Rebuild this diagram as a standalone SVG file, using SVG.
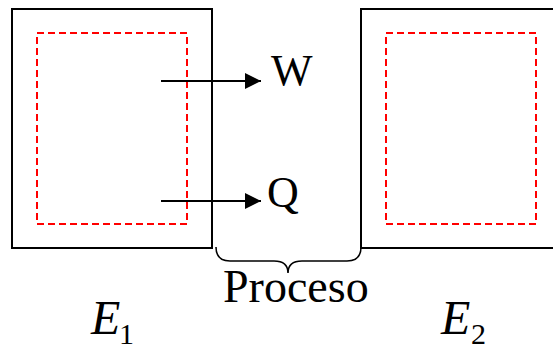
<svg xmlns="http://www.w3.org/2000/svg" width="553" height="350" viewBox="0 0 553 350">
  <style>
    .box { fill: none; stroke: #000; stroke-width: 2; }
    .inner { fill: none; stroke: #ff0000; stroke-width: 2; stroke-dasharray: 7 4; }
    .flow { stroke: #000; stroke-width: 2; fill: none; }
    .brace { fill: none; stroke: #000; stroke-width: 1.6; }
    text { fill: #000; }
  </style>
  <defs>
    <marker id="arrowhead" markerWidth="16" markerHeight="16" refX="16" refY="8" markerUnits="userSpaceOnUse" orient="auto">
      <path d="M0,0 L16,8 L0,16 Z" fill="#000"/>
    </marker>
  </defs>

  <g font-family="'Liberation Serif', 'Times New Roman', 'DejaVu Serif', serif">
    <!-- state 1 system -->
    <g id="state1">
      <rect class="box" x="12" y="9" width="200" height="239"/>
      <rect class="inner" x="37" y="33" width="150" height="191"/>
      <text x="91" y="334" font-size="48" font-style="italic">E</text>
      <text x="119" y="344" font-size="30">1</text>
    </g>

    <!-- state 2 system -->
    <g id="state2">
      <rect class="box" x="361" y="9" width="200" height="239"/>
      <rect class="inner" x="386" y="33" width="150" height="191"/>
      <text x="441" y="334" font-size="48" font-style="italic">E</text>
      <text x="471" y="344" font-size="30">2</text>
    </g>

    <!-- energy transfers -->
    <g id="connectors">
      <line class="flow" x1="161" y1="81" x2="261" y2="81" marker-end="url(#arrowhead)"/>
      <line class="flow" x1="161" y1="201" x2="261" y2="201" marker-end="url(#arrowhead)"/>
    </g>

    <g id="work">
      <text x="271" y="85" font-size="44">W</text>
    </g>
    <g id="heat">
      <text x="267" y="207" font-size="44">Q</text>
    </g>

    <!-- process brace -->
    <g id="process">
      <path class="brace" d="M216,247 Q216,261 230,261 L274,261 Q288,261 288,273 Q288,261 302,261 L347,261 Q361,261 361,247"/>
      <text x="223" y="302" font-size="46">Proceso</text>
    </g>
  </g>
</svg>
